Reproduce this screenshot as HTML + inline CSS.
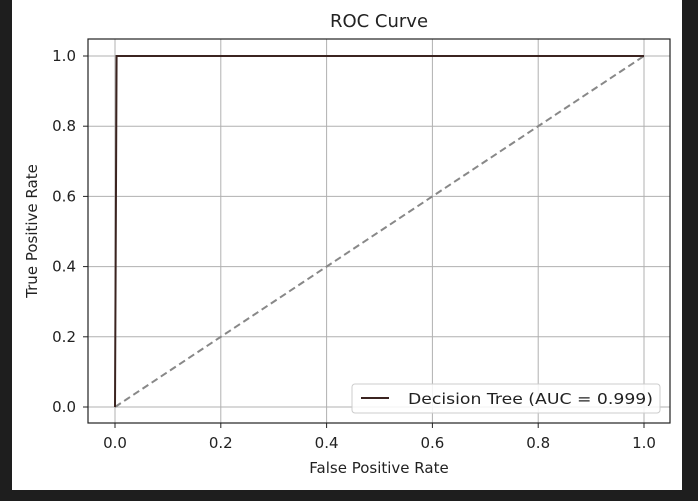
<!DOCTYPE html>
<html><head><meta charset="utf-8"><style>
body{margin:0;background:#1e1e1e;width:698px;height:501px;overflow:hidden}
svg{display:block}
text{font-family:"DejaVu Sans","Liberation Sans",sans-serif;fill:#222}
</style></head><body>
<svg width="698" height="501">
<rect x="12" y="0" width="670" height="490" fill="#fff"/>
<g id="grid"></g>
<g id="ticks"></g>
<g id="series"></g>
<rect x="88" y="39" width="582" height="384" fill="none" stroke="#222" stroke-width="1.2"/>
<text x="379" y="27" text-anchor="middle" font-size="18">ROC Curve</text>
<text x="379" y="473" text-anchor="middle" font-size="15">False Positive Rate</text>
<text transform="translate(37,231) rotate(-90)" text-anchor="middle" font-size="15">True Positive Rate</text>
<g>
<rect x="352" y="384" width="308" height="29" rx="3" fill="#fff" fill-opacity="0.85" stroke="#ccc"/>
<line x1="361" y1="398" x2="389" y2="398" stroke="#3b2420" stroke-width="2"/>
<text x="408" y="404" font-size="15" textLength="245" lengthAdjust="spacingAndGlyphs">Decision Tree (AUC = 0.999)</text>
</g>
</svg>
<script>
const fpr=[0,0.003,1];
const tpr=[0,1,1];
const ticks=[0,0.2,0.4,0.6,0.8,1.0];
const tickLabels=["0.0","0.2","0.4","0.6","0.8","1.0"];
const X=v=>115+v*529, Y=v=>407-v*351;
const NS="http://www.w3.org/2000/svg";
function mk(t,a,p){const e=document.createElementNS(NS,t);for(const k in a)e.setAttribute(k,a[k]);p.appendChild(e);return e;}
const g=document.getElementById('grid'),tk=document.getElementById('ticks'),s=document.getElementById('series');
ticks.forEach((t,i)=>{
 let l=mk('line',{x1:X(t),x2:X(t),y1:39,y2:423,stroke:'#b0b0b0','stroke-width':1},g);
 
 
 l=mk('line',{x1:88,x2:670,y1:Y(t),y2:Y(t),stroke:'#b0b0b0','stroke-width':1},g);
 
 
 mk('line',{x1:X(t),x2:X(t),y1:423,y2:428,stroke:'#222'},tk);
 mk('line',{x1:83,x2:88,y1:Y(t),y2:Y(t),stroke:'#222'},tk);
 let tx=mk('text',{x:X(t),y:448,'text-anchor':'middle','font-size':15},tk);tx.textContent=tickLabels[i];
 
 
 tx=mk('text',{x:76,y:Y(t)+5,'text-anchor':'end','font-size':15},tk);tx.textContent=tickLabels[i];
 
 
});
let d=mk('line',{x1:X(0),y1:Y(0),x2:X(1),y2:Y(1),stroke:'#888','stroke-width':2,'stroke-dasharray':'7,4'},s);


let p=mk('polyline',{points:fpr.map((f,i)=>X(f)+','+Y(tpr[i])).join(' '),fill:'none',stroke:'#3b2420','stroke-width':2},s);


</script>
</body></html>
